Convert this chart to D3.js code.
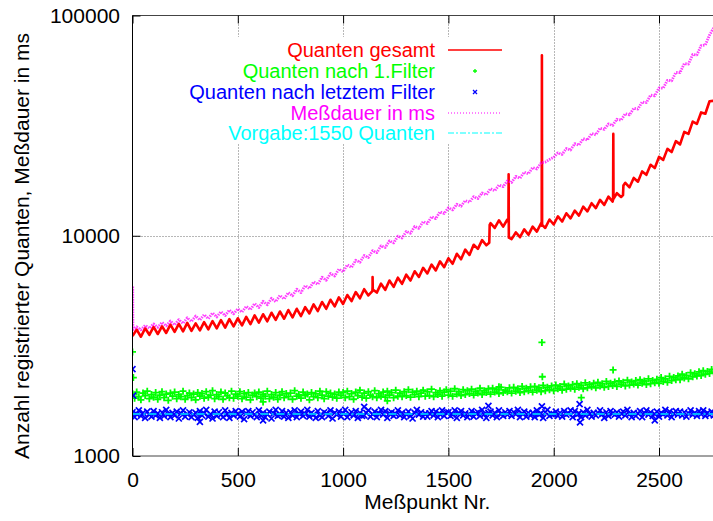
<!DOCTYPE html>
<html><head><meta charset="utf-8">
<script src="https://cdn.jsdelivr.net/npm/d3@7"></script>
<style>body{margin:0;background:#fff}svg{display:block}text{font-family:"Liberation Sans",Arial,Helvetica,sans-serif}</style>
</head><body><svg id="c" width="713" height="521"></svg>
<script>
// ---------- data (values in thousands) ----------
const LINE_STEP = 20;   // Meßpunkt spacing of the line samples
const PTS_STEP = 10;    // Meßpunkt spacing of the scatter samples
const xTicks = [0, 500, 1000, 1500, 2000, 2500];
const yTicks = [1000, 10000, 100000];
const legendLabels = ["Quanten gesamt", "Quanten nach 1.Filter", "Quanten nach letztem Filter", "Meßdauer in ms", "Vorgabe:1550 Quanten"];
const vorgabe = 1550;

const redK = [3.50,3.75,3.48,3.80,3.55,3.86,3.58,3.88,3.62,3.95,3.66,3.98,3.68,4.02,3.70,4.00,3.72,4.05,3.76,4.10,
3.80,4.14,3.83,4.18,3.88,4.22,3.92,4.28,3.97,4.35,4.03,4.40,4.09,4.47,4.15,4.53,4.20,4.60,4.26,4.66,
4.32,4.74,4.44,4.88,4.55,5.00,4.66,5.12,4.78,5.25,4.90,5.38,5.05,5.55,5.20,5.72,5.36,5.88,5.52,6.06,
5.68,6.26,5.86,6.45,6.05,6.66,6.26,6.90,6.50,7.15,6.74,7.40,6.96,7.65,7.20,7.90,7.46,8.28,7.82,8.65,
8.18,9.10,8.72,9.55,9.05,11.40,10.85,11.75,11.00,11.85,9.65,10.35,9.85,10.70,10.10,11.00,10.45,11.40,10.85,11.85,
11.25,12.25,11.60,12.65,12.00,13.00,12.35,13.55,12.90,14.05,13.35,14.55,13.80,15.05,14.30,15.60,15.00,17.40,16.60,18.30,
17.60,19.60,18.90,21.00,20.30,22.80,22.10,24.80,24.00,26.90,26.00,29.60,29.00,33.00,32.20,36.30,35.80,40.80,41.00];
// single-sample excursions and steps (Meßpunkt, value)
const redSpikes = [[1139, 5.6], [1140, 6.5], [1141, 5.7], [1694, 9.3], [1696, 11.2],
  [1785, 11.6], [1786, 19.0], [1787, 9.8], [1943, 11.1], [1944, 66.0], [1945, 11.2],
  [2282, 14.6], [2283, 29.0], [2284, 14.7], [2329, 15.3], [2331, 16.9]];

const magentaK = [3.70,3.86,3.74,3.92,3.80,3.98,3.84,4.04,3.90,4.10,3.94,4.16,4.00,4.24,4.08,4.32,4.14,4.38,4.20,4.46,
4.28,4.52,4.34,4.60,4.42,4.66,4.50,4.78,4.62,4.92,4.72,5.04,4.86,5.20,5.02,5.36,5.16,5.52,5.34,5.72,
5.52,5.94,5.76,6.18,6.02,6.48,6.28,6.74,6.56,7.06,6.86,7.38,7.18,7.74,7.58,8.14,7.96,8.56,8.38,9.00,
8.84,9.48,9.28,9.96,9.76,10.46,10.26,11.02,10.80,11.60,11.36,12.20,11.96,12.84,12.62,13.40,13.10,13.90,13.62,14.45,
14.20,15.05,14.75,15.65,15.35,16.35,16.00,17.00,16.70,17.75,17.45,18.60,18.25,19.45,19.10,20.40,20.10,21.40,21.60,22.20,
22.70,23.80,23.40,24.90,24.50,26.20,25.80,27.60,27.20,29.10,28.70,30.80,30.40,32.20,31.70,33.80,33.50,35.80,35.40,37.90,
37.60,40.50,40.20,43.50,43.20,46.90,46.80,50.80,50.50,55.20,55.00,60.50,60.20,66.50,66.20,73.00,73.50,81.50,88.00];
const magentaSpikes = [[1, 5.9], [2, 3.75]];

const greenK = [
1.92,1.83,1.95,1.86,1.80,1.93,1.88,1.97,1.82,1.90, 1.85,1.94,1.81,1.89,1.96,1.84,1.91,1.79,1.93,1.87,
1.95,1.82,1.90,1.86,1.97,1.81,1.88,1.93,1.84,1.91, 1.80,1.94,1.87,1.92,1.83,1.96,1.85,1.89,1.98,1.82,
1.90,1.86,1.95,1.81,1.93,1.88,1.84,1.97,1.83,1.91, 1.87,1.96,1.82,1.92,1.85,1.94,1.80,1.89,1.93,1.86,
1.95,1.83,1.91,1.87,1.97,1.82,1.90,1.85,1.94,1.81, 1.89,1.96,1.84,1.92,1.86,1.93,1.81,1.98,1.87,1.90,
1.83,1.95,1.88,1.91,1.80,1.94,1.86,1.92,1.84,1.97, 1.89,1.82,1.96,1.87,1.93,1.85,1.91,1.83,1.95,1.88,
1.94,1.84,1.97,1.86,1.92,1.81,1.95,1.88,1.99,1.85, 1.93,1.83,1.96,1.89,1.86,1.98,1.84,1.92,1.87,1.95,
1.85,1.97,1.89,1.94,1.84,1.99,1.87,1.93,1.86,1.96, 1.88,2.00,1.85,1.95,1.90,1.97,1.86,1.93,1.99,1.87,
1.96,1.88,2.01,1.86,1.94,1.90,1.98,1.87,1.95,2.00, 1.89,1.97,1.87,2.02,1.91,1.96,1.88,2.00,1.90,1.98,
1.92,2.01,1.89,1.97,1.93,2.03,1.90,1.98,1.94,2.02, 1.91,2.03,1.95,2.00,1.92,2.05,1.94,1.99,1.96,2.04,
1.93,2.05,1.97,2.02,1.94,2.07,1.96,2.03,1.98,2.06, 1.95,2.07,1.99,2.04,1.96,2.09,1.98,2.05,2.00,2.08,
1.98,2.10,2.02,2.07,1.99,2.12,2.01,2.08,2.03,2.11, 2.01,2.13,2.05,2.10,2.02,2.15,2.04,2.11,2.06,2.14,
2.04,2.16,2.08,2.13,2.05,2.18,2.07,2.14,2.09,2.17, 2.07,2.19,2.11,2.16,2.08,2.21,2.10,2.17,2.12,2.20,
2.10,2.22,2.14,2.19,2.11,2.24,2.13,2.20,2.15,2.23, 2.14,2.27,2.18,2.24,2.16,2.30,2.20,2.27,2.22,2.31,
2.22,2.35,2.26,2.32,2.24,2.39,2.29,2.36,2.31,2.41, 2.32,2.44,2.35,2.42,2.37,2.47,2.40];
const greenExtra = [[0, 2.97], [4, 2.27], [1944, 3.28], [1946, 2.29], [2282, 2.46], [1740, 2.06], [2131, 1.84], [620, 1.76], [1210, 1.78]];

const blueK = [
1.58,1.50,1.55,1.61,1.52,1.57,1.49,1.59,1.54,1.51, 1.60,1.53,1.56,1.49,1.58,1.52,1.62,1.55,1.50,1.57,
1.53,1.59,1.48,1.56,1.61,1.51,1.55,1.58,1.50,1.54, 1.57,1.49,1.60,1.53,1.56,1.62,1.51,1.55,1.48,1.59,
1.52,1.58,1.54,1.50,1.61,1.55,1.49,1.57,1.53,1.60, 1.55,1.51,1.59,1.47,1.56,1.60,1.52,1.58,1.54,1.50,
1.61,1.53,1.57,1.50,1.55,1.59,1.48,1.56,1.62,1.52, 1.54,1.60,1.51,1.57,1.49,1.58,1.53,1.61,1.50,1.56,
1.59,1.52,1.55,1.62,1.51,1.57,1.54,1.49,1.60,1.53, 1.50,1.58,1.56,1.52,1.61,1.48,1.57,1.54,1.59,1.51,
1.56,1.62,1.50,1.55,1.58,1.53,1.60,1.49,1.57,1.52, 1.53,1.57,1.61,1.51,1.55,1.59,1.50,1.56,1.62,1.54,
1.60,1.49,1.56,1.58,1.52,1.55,1.61,1.53,1.57,1.50, 1.55,1.59,1.52,1.48,1.57,1.62,1.54,1.58,1.51,1.56,
1.51,1.56,1.60,1.53,1.59,1.50,1.55,1.61,1.52,1.58, 1.58,1.52,1.54,1.61,1.49,1.57,1.60,1.53,1.56,1.50,
1.54,1.60,1.51,1.56,1.58,1.52,1.62,1.55,1.49,1.57, 1.59,1.53,1.57,1.50,1.61,1.55,1.52,1.58,1.54,1.60,
1.52,1.58,1.55,1.62,1.50,1.56,1.59,1.51,1.57,1.53, 1.57,1.50,1.61,1.54,1.56,1.49,1.58,1.62,1.52,1.55,
1.55,1.59,1.52,1.57,1.51,1.60,1.54,1.56,1.61,1.50, 1.60,1.54,1.56,1.50,1.58,1.53,1.62,1.55,1.51,1.57,
1.53,1.57,1.61,1.55,1.49,1.58,1.52,1.60,1.56,1.54, 1.58,1.51,1.56,1.59,1.53,1.62,1.55,1.50,1.57,1.52,
1.56,1.60,1.50,1.57,1.61,1.54,1.58,1.52,1.55,1.59, 1.51,1.57,1.55,1.62,1.53,1.59,1.50,1.56,1.60,1.54,
1.59,1.53,1.58,1.51,1.56,1.61,1.54,1.57,1.52,1.60, 1.55,1.61,1.52,1.57,1.54,1.59,1.53];
const blueExtra = [[0, 2.48], [3, 1.88], [2123, 1.72], [2125, 1.42], [1944, 1.68], [320, 1.43], [620, 1.45], [1690, 1.69], [2480, 1.45], [1100, 1.67]];

// ---------- layout ----------
const svg = d3.select("#c");
const L = 132.5, T = 15.5, B = 456;
const x = d3.scaleLinear().domain([0, 2800]).range([L, L + 5.6 * 105.3]);
const y = d3.scaleLog().domain([1000, 100000]).range([B, T]);
const R = x.range()[1];
const FS = 21, LFS = 20;

const toSeries = (arr, step, extra) => {
  const s = arr.map((v, i) => [i * step, v * 1000]);
  extra.forEach(e => s.push([e[0], e[1] * 1000]));
  return s.sort((a, b) => a[0] - b[0]);
};

svg.append("defs").append("clipPath").attr("id", "clip")
  .append("rect").attr("x", L).attr("y", T).attr("width", R - L).attr("height", B - T);

// grid
const grid = svg.append("g").attr("stroke", "#6e6e6e").attr("stroke-width", 1).attr("stroke-dasharray", "1,2");
grid.selectAll("line.vx").data(xTicks.filter(d => d > 0)).join("line")
  .attr("x1", d => Math.round(x(d)) + 0.5).attr("x2", d => Math.round(x(d)) + 0.5).attr("y1", T).attr("y2", B);
grid.selectAll("line.hy").data([10000]).join("line")
  .attr("x1", L).attr("x2", R).attr("y1", d => Math.round(y(d)) + 0.5).attr("y2", d => Math.round(y(d)) + 0.5);

// legend box (opaque)
svg.append("rect").attr("x", 170).attr("y", 37).attr("width", 342).attr("height", 107).attr("fill", "#fff");

// data
const plot = svg.append("g").attr("clip-path", "url(#clip)");
const line = d3.line().x(d => x(d[0])).y(d => y(d[1]));

plot.append("path").datum(toSeries(redK, LINE_STEP, redSpikes))
  .attr("d", line).attr("fill", "none").attr("stroke", "#ff0000").attr("stroke-width", 2.6).attr("stroke-linejoin", "round");

const plusPath = "M-3.5,0H3.5M0,-3.5V3.5";
const crossPath = "M-3,-3L3,3M-3,3L3,-3";

plot.append("g").selectAll("path").data(toSeries(greenK, PTS_STEP, greenExtra)).join("path")
  .attr("transform", d => `translate(${x(d[0])},${y(d[1])})`).attr("d", plusPath)
  .attr("stroke", "#00ff00").attr("stroke-width", 1.8).attr("fill", "none");

plot.append("g").selectAll("path").data(toSeries(blueK, PTS_STEP, blueExtra)).join("path")
  .attr("transform", d => `translate(${x(d[0])},${y(d[1])})`).attr("d", crossPath)
  .attr("stroke", "#0000ff").attr("stroke-width", 1.7).attr("fill", "none");

plot.append("path").datum(toSeries(magentaK, LINE_STEP, magentaSpikes))
  .attr("d", line).attr("fill", "none").attr("stroke", "#ff00ff").attr("stroke-width", 2.8)
  .attr("stroke-dasharray", "1.5,1").attr("opacity", 0.75).attr("stroke-linejoin", "round");

plot.append("line").attr("x1", L).attr("x2", R).attr("y1", y(vorgabe)).attr("y2", y(vorgabe))
  .attr("stroke", "#00b4ff").attr("stroke-width", 2).attr("stroke-dasharray", "8,3,2,3");

// borders
svg.append("line").attr("x1", L).attr("x2", R).attr("y1", T).attr("y2", T).attr("stroke", "#444");
svg.append("line").attr("x1", L).attr("x2", R).attr("y1", B).attr("y2", B).attr("stroke", "#444");
svg.append("line").attr("x1", L).attr("x2", L).attr("y1", T).attr("y2", B).attr("stroke", "#000");

// axes
const xAxis = svg.append("g").attr("transform", `translate(0,${B})`)
  .call(d3.axisBottom(x).tickValues(xTicks).tickFormat(d3.format("d")).tickSizeInner(-8).tickSizeOuter(0).tickPadding(16));
const xAxisTop = svg.append("g").attr("transform", `translate(0,${T})`)
  .call(d3.axisTop(x).tickValues(xTicks).tickFormat("").tickSizeInner(-8).tickSizeOuter(0));
const yAxis = svg.append("g").attr("transform", `translate(${L},0)`)
  .call(d3.axisLeft(y).tickValues(yTicks).tickFormat(d3.format("d")).tickSizeInner(-8).tickSizeOuter(0).tickPadding(12.5));
[xAxis, xAxisTop, yAxis].forEach(g => {
  g.select(".domain").remove();
  g.selectAll(".tick line").attr("stroke", "#000");
  g.selectAll("text").attr("font-size", FS).attr("fill", "#000").attr("font-family", '"Liberation Sans",Arial,sans-serif');
});

// axis titles
svg.append("text").attr("x", (L + R) / 2).attr("y", 509).attr("text-anchor", "middle").attr("font-size", FS).text("Meßpunkt Nr.");
svg.append("text").attr("transform", "translate(28.5,246) rotate(-90)").attr("text-anchor", "middle").attr("font-size", FS)
  .text("Anzahl registrierter Quanten, Meßdauer in ms");

// legend
const legColors = ["#ff0000", "#00ff00", "#0000ff", "#ff00ff", "#00ffff"];
const legY = [50, 71, 92, 113, 133];
const lg = svg.append("g");
legendLabels.forEach((t, i) => {
  lg.append("text").attr("x", 435).attr("y", legY[i] + 7).attr("text-anchor", "end")
    .attr("font-size", LFS).attr("fill", legColors[i]).text(t);
});
lg.append("line").attr("x1", 448).attr("x2", 502).attr("y1", legY[0]).attr("y2", legY[0]).attr("stroke", "#ff0000").attr("stroke-width", 1.5);
lg.append("path").attr("transform", `translate(475,${legY[1]})`).attr("d", "M-2,0H2M0,-2V2").attr("stroke", "#00ff00").attr("stroke-width", 1.3);
lg.append("path").attr("transform", `translate(475,${legY[2]})`).attr("d", "M-2,-2L2,2M-2,2L2,-2").attr("stroke", "#0000ff").attr("stroke-width", 1.3);
lg.append("line").attr("x1", 448).attr("x2", 502).attr("y1", legY[3]).attr("y2", legY[3]).attr("stroke", "#ff00ff").attr("stroke-width", 1).attr("stroke-dasharray", "1,2");
lg.append("line").attr("x1", 448).attr("x2", 502).attr("y1", legY[4]).attr("y2", legY[4]).attr("stroke", "#00ffff").attr("stroke-width", 1.2).attr("stroke-dasharray", "6,2,2,2");
</script></body></html>
